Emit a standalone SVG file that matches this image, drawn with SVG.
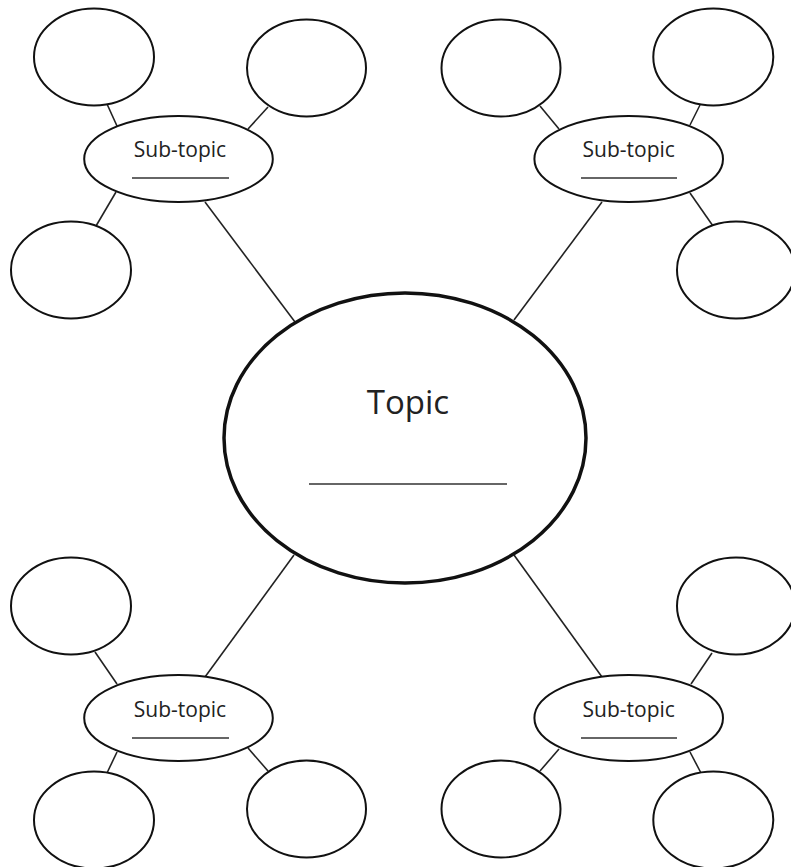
<svg xmlns="http://www.w3.org/2000/svg" width="791" height="867" viewBox="0 0 791 867">
<style>
.c{fill:#fff;stroke:#111;stroke-width:2}
.s{fill:#fff;stroke:#111;stroke-width:2}
.t{fill:#fff;stroke:#111;stroke-width:3.5}
.l{stroke:#222;stroke-width:1.6;fill:none}
.u{stroke:#333;stroke-width:1.6}
.lbl{font-family:"Open Sans","Noto Sans",sans-serif;fill:#222;text-anchor:middle}
</style>
<rect width="791" height="867" fill="#fff"/>
<g id="connectors">
<line class="l" x1="107" y1="104" x2="117" y2="126"/>
<line class="l" x1="268" y1="107" x2="248" y2="129"/>
<line class="l" x1="116" y1="192" x2="96" y2="226"/>
<line class="l" x1="205" y1="202" x2="295" y2="322"/>
<line class="l" x1="540" y1="106" x2="559" y2="129"/>
<line class="l" x1="700" y1="105" x2="690" y2="125"/>
<line class="l" x1="690" y1="193" x2="713" y2="226"/>
<line class="l" x1="602" y1="202" x2="514" y2="320"/>
<line class="l" x1="95" y1="652" x2="117" y2="684"/>
<line class="l" x1="117" y1="752" x2="107" y2="773"/>
<line class="l" x1="248" y1="748" x2="268" y2="771"/>
<line class="l" x1="205" y1="677" x2="294" y2="555"/>
<line class="l" x1="514" y1="555" x2="602" y2="677"/>
<line class="l" x1="712" y1="653" x2="691" y2="684"/>
<line class="l" x1="559" y1="749" x2="540" y2="771"/>
<line class="l" x1="690" y1="752" x2="701" y2="773"/>
</g>
<g id="topic">
<ellipse class="t" cx="405" cy="438" rx="181" ry="145"/>
<text class="lbl" x="408" y="414" font-size="33">Topic</text>
<line class="u" x1="309" y1="484" x2="507" y2="484"/>
</g>
<g id="subtopic-tl">
<ellipse class="s" cx="178.5" cy="159" rx="94.3" ry="43"/>
<text class="lbl" x="180" y="157" font-size="21">Sub-topic</text>
<line class="u" x1="132" y1="178" x2="229" y2="178"/>
</g>
<g id="subtopic-tr">
<ellipse class="s" cx="628.7" cy="159" rx="94.3" ry="43"/>
<text class="lbl" x="628.7" y="157" font-size="21">Sub-topic</text>
<line class="u" x1="581" y1="178" x2="677" y2="178"/>
</g>
<g id="subtopic-bl">
<ellipse class="s" cx="178.5" cy="718" rx="94.3" ry="43"/>
<text class="lbl" x="180" y="717" font-size="21">Sub-topic</text>
<line class="u" x1="132" y1="738" x2="229" y2="738"/>
</g>
<g id="subtopic-br">
<ellipse class="s" cx="628.7" cy="718" rx="94.3" ry="43"/>
<text class="lbl" x="628.7" y="717" font-size="21">Sub-topic</text>
<line class="u" x1="581" y1="738" x2="677" y2="738"/>
</g>
<g id="leaf-tl-1"><ellipse class="c" cx="94" cy="57" rx="60" ry="48.5"/></g>
<g id="leaf-tl-2"><ellipse class="c" cx="306.5" cy="68" rx="59.5" ry="48.5"/></g>
<g id="leaf-tl-3"><ellipse class="c" cx="71" cy="270" rx="60" ry="48.5"/></g>
<g id="leaf-tr-1"><ellipse class="c" cx="501" cy="68" rx="59.5" ry="48.5"/></g>
<g id="leaf-tr-2"><ellipse class="c" cx="713.3" cy="57" rx="60" ry="48.5"/></g>
<g id="leaf-tr-3"><ellipse class="c" cx="736" cy="270" rx="59" ry="48.5"/></g>
<g id="leaf-bl-1"><ellipse class="c" cx="71" cy="606" rx="60" ry="48.5"/></g>
<g id="leaf-bl-2"><ellipse class="c" cx="94" cy="820" rx="60" ry="48.5"/></g>
<g id="leaf-bl-3"><ellipse class="c" cx="306.5" cy="809" rx="59.5" ry="48.5"/></g>
<g id="leaf-br-1"><ellipse class="c" cx="736" cy="606" rx="59" ry="48.5"/></g>
<g id="leaf-br-2"><ellipse class="c" cx="501" cy="809" rx="59.5" ry="48.5"/></g>
<g id="leaf-br-3"><ellipse class="c" cx="713.3" cy="820" rx="60" ry="48.5"/></g>
</svg>
